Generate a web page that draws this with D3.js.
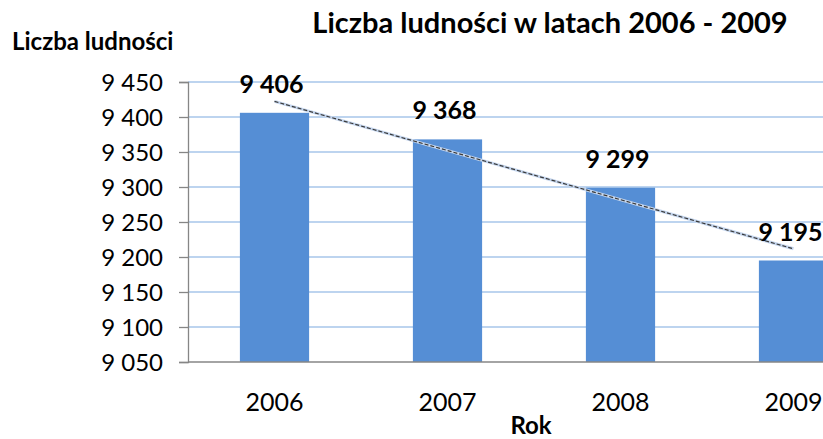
<!DOCTYPE html>
<html>
<head>
<meta charset="utf-8">
<script src="https://cdn.jsdelivr.net/npm/d3@7"></script>
<style>
  body { margin: 0; background: #fff; overflow: hidden; }
  text { font-family: Lato, sans-serif; fill: #000; }
</style>
</head>
<body>
<script>
const years = ["2006", "2007", "2008", "2009"];
const population = [9406, 9368, 9299, 9195];
const yTicks = [9050, 9100, 9150, 9200, 9250, 9300, 9350, 9400, 9450];

const width = 823;
const height = 439;
const margin = { top: 82, left: 188, bottom: 362 };

const pl = d3.formatLocale({ decimal: ",", thousands: "\u00a0", grouping: [3], currency: ["", " zł"] });
const fmt = pl.format(",d");

const svg = d3.select("body")
    .append("svg")
    .attr("width", width)
    .attr("height", height);

const x = d3.scaleBand()
    .domain(years)
    .range([margin.left, margin.left + 4 * 173])
    .paddingInner(0.6)
    .paddingOuter(0.3);

const y = d3.scaleLinear()
    .domain([9050, 9450])
    .range([margin.bottom, margin.top]);

// gridlines
svg.selectAll(".grid")
    .data(yTicks.slice(1))
    .enter()
    .append("line")
    .attr("x1", margin.left)
    .attr("x2", width)
    .attr("y1", d => y(d))
    .attr("y2", d => y(d))
    .attr("stroke", "#a7c6ea")
    .attr("stroke-width", 1.3);

// bars
svg.selectAll(".bar")
    .data(population)
    .enter()
    .append("rect")
    .attr("x", (d, i) => x(years[i]))
    .attr("y", d => y(d))
    .attr("width", x.bandwidth())
    .attr("height", d => margin.bottom - y(d))
    .attr("fill", "#558ed5");

// y axis
const yAxis = svg.append("g")
    .attr("transform", `translate(${margin.left},0)`)
    .call(d3.axisLeft(y).tickValues(yTicks).tickFormat(fmt).tickSize(9).tickPadding(16));
yAxis.select(".domain").attr("stroke", "#868686").attr("stroke-width", 1.3);
yAxis.selectAll(".tick line").attr("stroke", "#868686").attr("stroke-width", 1.3);
yAxis.selectAll(".tick text")
    .style("font-size", "24px")
    .attr("fill", "#000")
    .attr("dy", "0.36em");

// x axis
const xAxis = svg.append("g")
    .attr("transform", `translate(0,${margin.bottom})`)
    .call(d3.axisBottom(x).tickSize(0).tickPadding(31));
xAxis.select(".domain").attr("stroke", "#868686").attr("stroke-width", 1.3).attr("d", `M${margin.left},0H${width}`);
xAxis.selectAll(".tick text")
    .style("font-size", "25px")
    .attr("fill", "#000");

// linear trend
const n = population.length;
const mx = d3.mean(population, (d, i) => i);
const my = d3.mean(population);
const slope = d3.sum(population, (d, i) => (i - mx) * (d - my)) / d3.sum(population, (d, i) => (i - mx) * (i - mx));
const trend = years.map((yr, i) => [x(yr) + x.bandwidth() / 2, y(my + slope * (i - mx))]);
const line = d3.line();
svg.append("path")
    .attr("d", line([trend[0], trend[n - 1]]))
    .attr("stroke", "#c5d6ee")
    .attr("stroke-width", 3)
    .attr("fill", "none");
svg.append("path")
    .attr("d", line([trend[0], trend[n - 1]]))
    .attr("stroke", "#3a3a3a")
    .attr("stroke-width", 1.2)
    .attr("stroke-dasharray", "4,2")
    .attr("fill", "none");

// data labels
svg.selectAll(".label")
    .data(population)
    .enter()
    .append("text")
    .attr("x", (d, i) => x(years[i]) + x.bandwidth() / 2 - 3)
    .attr("y", d => y(d) - 20)
    .attr("text-anchor", "middle")
    .style("font-size", "25px")
    .style("font-weight", "bold")
    .text(d => fmt(d));

// titles
svg.append("text")
    .attr("x", 550)
    .attr("y", 33)
    .attr("text-anchor", "middle")
    .style("font-size", "29px")
    .style("font-weight", "bold")
    .text("Liczba ludności w latach 2006 - 2009");

svg.append("text")
    .attr("x", 12)
    .attr("y", 50)
    .style("font-size", "24px")
    .style("font-weight", "bold")
    .text("Liczba ludności");

svg.append("text")
    .attr("x", 531)
    .attr("y", 434)
    .attr("text-anchor", "middle")
    .style("font-size", "24px")
    .style("font-weight", "bold")
    .text("Rok");
</script>
</body>
</html>
